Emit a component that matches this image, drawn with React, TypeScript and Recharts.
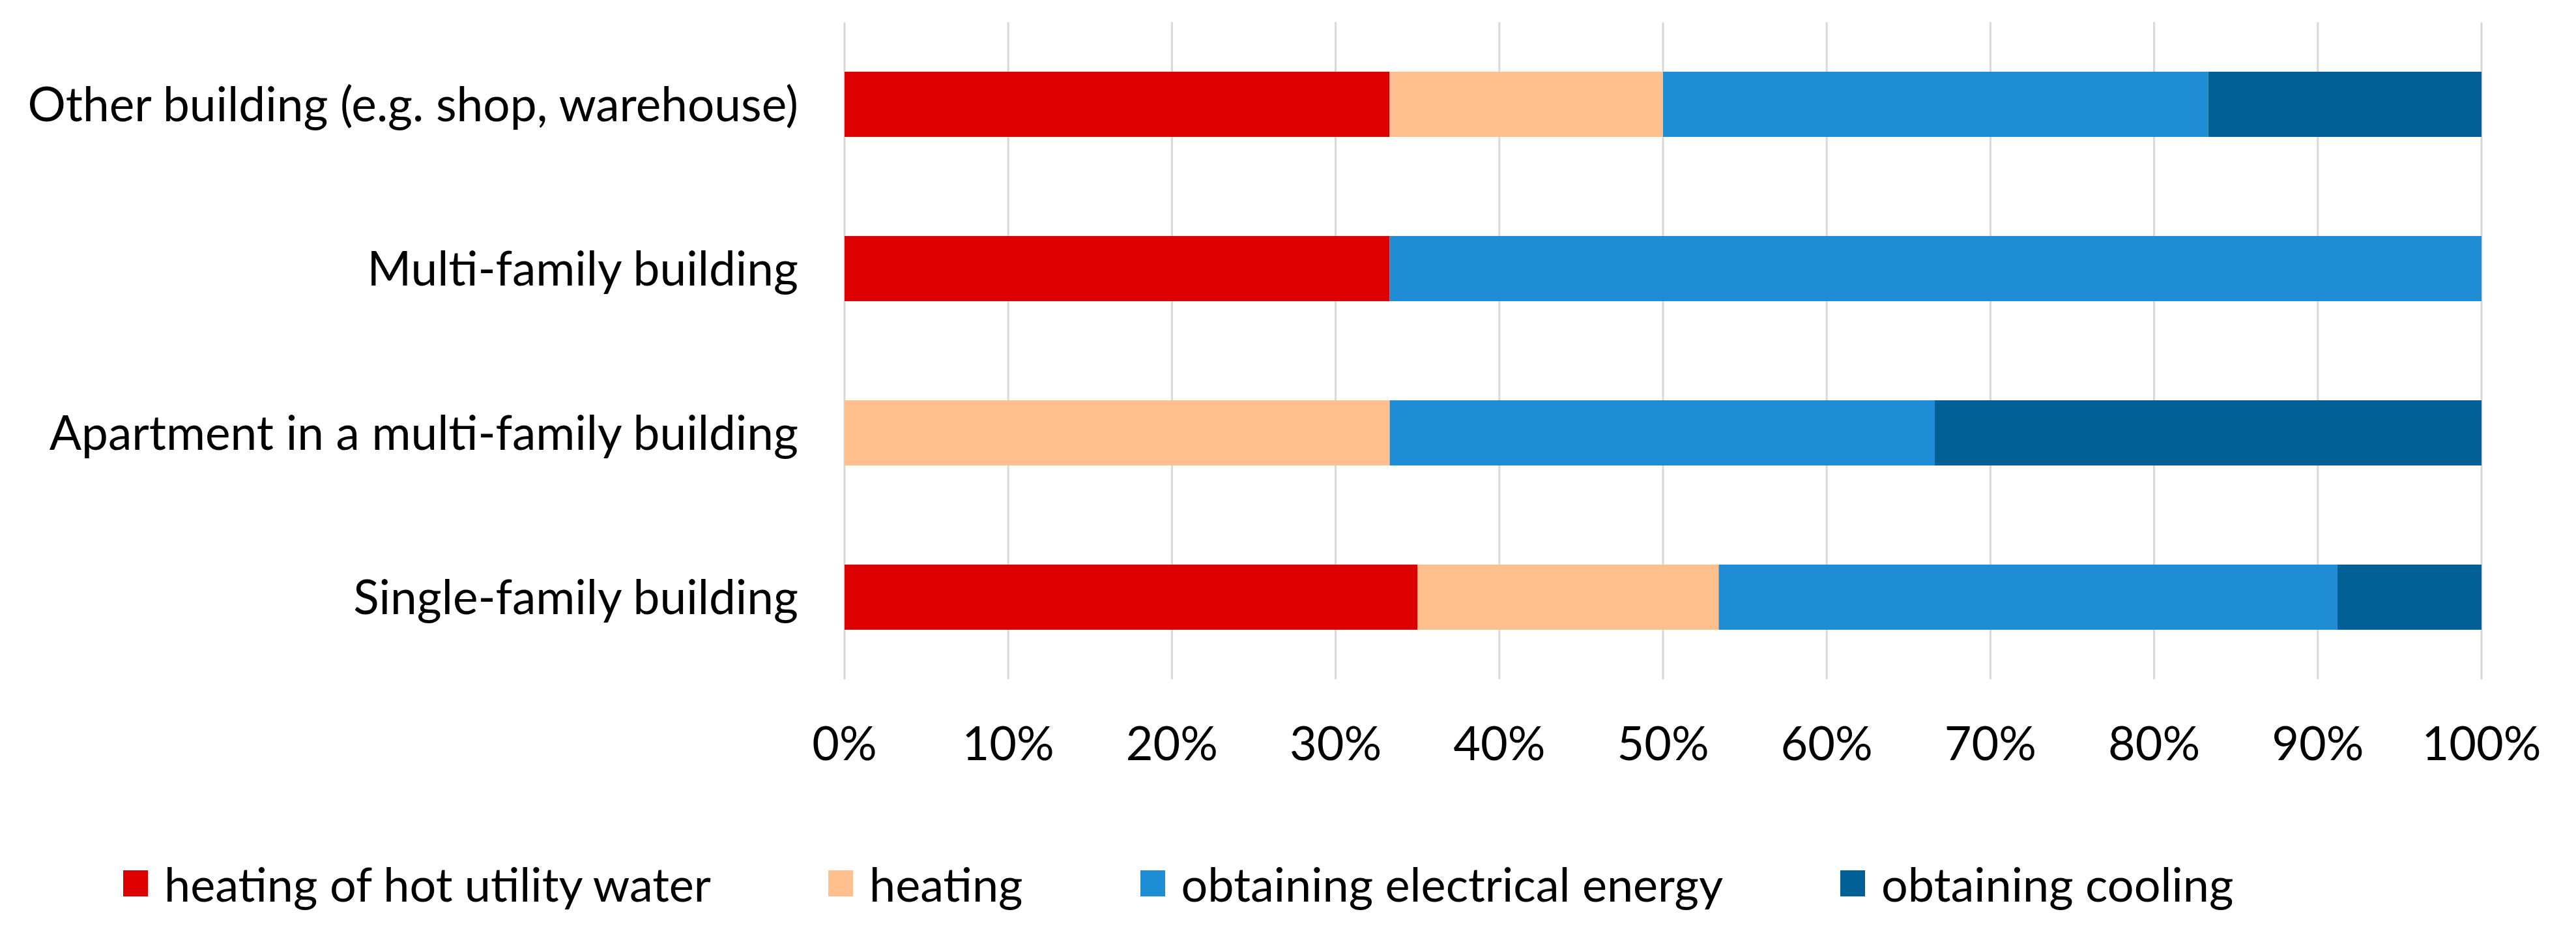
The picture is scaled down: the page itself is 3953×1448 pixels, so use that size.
import React from 'react';
import { BarChart, Bar, XAxis, YAxis, CartesianGrid } from 'recharts';

// building types, top to bottom as in the figure
const categories = [
  'Other building (e.g. shop, warehouse)',
  'Multi-family building',
  'Apartment in a multi-family building',
  'Single-family building',
];

// shares in % per building type
const hotWater = [33.3, 33.3, 0, 35.0];
const heating = [16.7, 0, 33.3, 18.4];
const electrical = [33.3, 66.7, 33.3, 37.8];
const cooling = [16.7, 0, 33.4, 8.8];

const xTicks = [0, 10, 20, 30, 40, 50, 60, 70, 80, 90, 100];

const seriesNames = [
  'heating of hot utility water',
  'heating',
  'obtaining electrical energy',
  'obtaining cooling',
];
const seriesKeys = ['hotWater', 'heating', 'electrical', 'cooling'];
const seriesColors = ['#DD0000', '#FFC08E', '#1F8DD6', '#005F95'];

const data = categories.map((name, i) => ({
  name,
  hotWater: hotWater[i],
  heating: heating[i],
  electrical: electrical[i],
  cooling: cooling[i],
}));

const FONT = 'Lato, "Open Sans", sans-serif';
const FONT_SIZE = 72;

export default function App() {
  return (
    <div
      style={{
        position: 'absolute',
        left: 0,
        top: 0,
        width: 3953,
        height: 1448,
        background: '#fff',
        fontFamily: FONT,
      }}
    >
      <BarChart
        width={3953}
        height={1200}
        data={data}
        layout="vertical"
        margin={{ top: 34, right: 145, left: 0, bottom: 0 }}
        barSize={100}
      >
        <CartesianGrid horizontal={false} stroke="#D9D9D9" strokeWidth={3} />
        <XAxis
          type="number"
          domain={[0, 100]}
          ticks={xTicks}
          allowDataOverflow
          height={158}
          axisLine={false}
          tickLine={false}
          tickSize={0}
          tickMargin={73}
          tickFormatter={(v) => `${v}%`}
          tick={{ fontSize: FONT_SIZE, fontFamily: FONT, fill: '#000' }}
        />
        <YAxis
          type="category"
          dataKey="name"
          width={1296}
          axisLine={false}
          tickLine={false}
          tickSize={0}
          tickMargin={71}
          interval={0}
          tick={{ fontSize: 73, fontFamily: FONT, fill: '#000' }}
        />
        {seriesKeys.map((k, i) => (
          <Bar
            key={k}
            dataKey={k}
            name={seriesNames[i]}
            stackId="a"
            fill={seriesColors[i]}
            isAnimationActive={false}
          />
        ))}
      </BarChart>
      <div
        style={{
          position: 'absolute',
          left: 189,
          top: 1355,
          transform: 'translateY(-50%)',
          display: 'flex',
          alignItems: 'center',
          gap: 180,
          fontSize: FONT_SIZE,
          color: '#000',
          whiteSpace: 'nowrap',
        }}
      >
        {seriesNames.map((n, i) => (
          <div key={n} style={{ display: 'flex', alignItems: 'center' }}>
            <span
              style={{
                display: 'inline-block',
                width: 38,
                height: 40,
                background: seriesColors[i],
                marginRight: 25,
              }}
            />
            <span>{n}</span>
          </div>
        ))}
      </div>
    </div>
  );
}
